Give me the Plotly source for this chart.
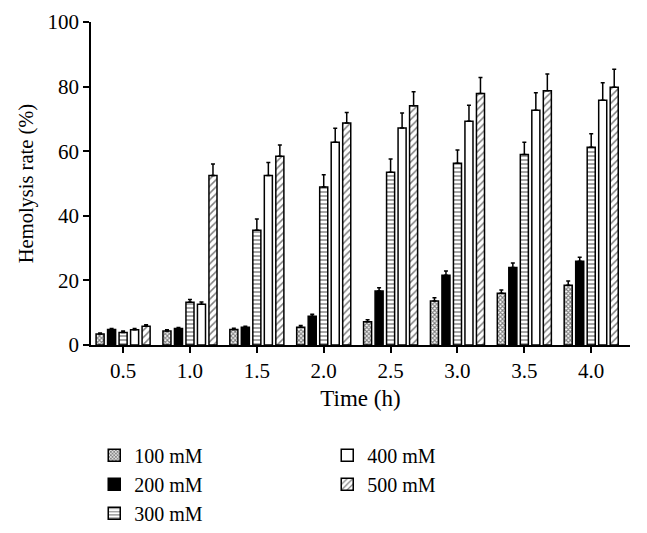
import plotly.graph_objects as go

times = ["0.5", "1.0", "1.5", "2.0", "2.5", "3.0", "3.5", "4.0"]
series_names = ["100 mM", "200 mM", "300 mM", "400 mM", "500 mM"]

v100 = [3.4, 4.3, 4.8, 5.5, 7.2, 13.6, 16.0, 18.5]
v200 = [4.8, 5.1, 5.5, 8.9, 16.7, 21.6, 24.0, 25.9]
v300 = [3.9, 13.2, 35.5, 48.9, 53.5, 56.3, 59.0, 61.2]
v400 = [4.7, 12.6, 52.5, 62.8, 67.2, 69.3, 72.7, 75.8]
v500 = [5.8, 52.5, 58.4, 68.7, 74.1, 77.9, 78.7, 79.8]

e100 = [0.3, 0.4, 0.4, 0.5, 0.6, 1.0, 1.0, 1.3]
e200 = [0.3, 0.3, 0.3, 0.6, 1.0, 1.3, 1.4, 1.3]
e300 = [0.4, 0.9, 3.5, 3.8, 4.1, 4.1, 3.8, 4.2]
e400 = [0.4, 0.7, 4.0, 4.3, 4.6, 4.9, 5.4, 5.4]
e500 = [0.5, 3.5, 3.5, 3.3, 4.3, 4.9, 5.2, 5.6]

values = [v100, v200, v300, v400, v500]
errors = [e100, e200, e300, e400, e500]
legend_ranks = [1, 3, 5, 2, 4]

patterns = [
    dict(shape="x", size=3, solidity=0.6, fgcolor="black", bgcolor="white"),
    dict(shape=""),
    dict(shape="-", size=4, solidity=0.35, fgcolor="black", bgcolor="white"),
    dict(shape=""),
    dict(shape="/", size=5, solidity=0.3, fgcolor="black", bgcolor="white"),
]
colors = ["white", "black", "white", "white", "white"]

FONT = "Liberation Serif"

fig = go.Figure()
for name, vals, errs, pat, col, rank in zip(series_names, values, errors, patterns, colors, legend_ranks):
    fig.add_trace(go.Bar(
        x=times, y=vals, name=name,
        marker=dict(color=col, line=dict(color="black", width=1.5), pattern=pat),
        error_y=dict(type="data", array=errs, arrayminus=[0] * len(errs), symmetric=False,
                     color="black", thickness=1.5, width=2),
        legendrank=rank,
    ))

# page body has an 8px default margin; size the figure so it fits the window
fig.update_layout(
    width=639, height=525,
    margin=dict(l=83, r=17, t=14, b=188, autoexpand=False),
    paper_bgcolor="white", plot_bgcolor="white",
    barmode="group", bargap=0.14, bargroupgap=0.3,
    font=dict(family=FONT, size=21, color="black"),
    showlegend=True,
    legend=dict(orientation="h", x=0.006, xanchor="left", y=-0.281, yanchor="top",
                entrywidth=188, entrywidthmode="pixels", tracegroupgap=0,
                font=dict(family=FONT, size=20), itemwidth=30),
    xaxis=dict(
        type="category", range=[-0.48, 7.58],
        showline=True, linecolor="black", linewidth=1.5,
        ticks="outside", ticklen=6, tickwidth=1.5, tickcolor="black",
        showgrid=False, zeroline=False,
        title=dict(text="Time (h)", font=dict(family=FONT, size=23), standoff=8),
        tickfont=dict(family=FONT, size=21),
    ),
    yaxis=dict(
        range=[0, 100], tickvals=[0, 20, 40, 60, 80, 100],
        showline=True, linecolor="black", linewidth=1.5,
        ticks="outside", ticklen=6, tickwidth=1.5, tickcolor="black",
        showgrid=False, zeroline=False,
        title=dict(text="Hemolysis rate (%)", font=dict(family=FONT, size=20.5), standoff=8),
        tickfont=dict(family=FONT, size=21),
    ),
)

fig.write_html("out.html")
